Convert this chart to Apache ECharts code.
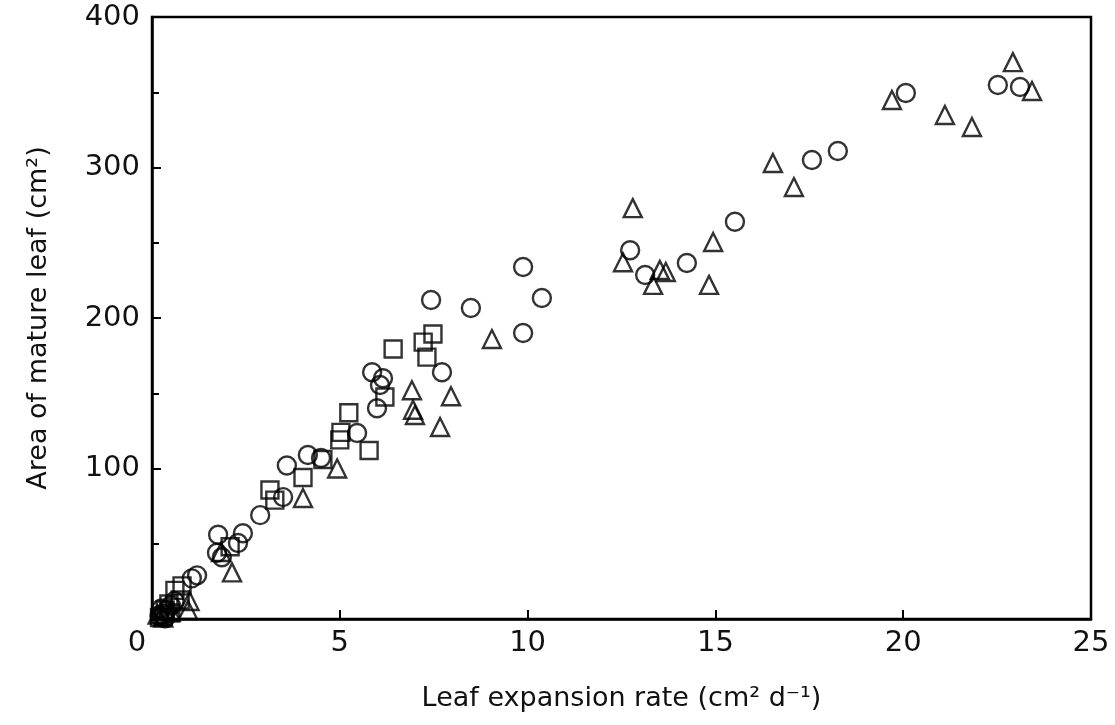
<!DOCTYPE html>
<html>
<head>
<meta charset="utf-8">
<script src="https://cdn.jsdelivr.net/npm/echarts@6/dist/echarts.min.js"></script>
<style>html,body{margin:0;padding:0;background:#fff}#c{width:1115px;height:725px}</style>
</head>
<body>
<div id="c"></div>
<script>
// Data: [expansion rate, mature leaf area]
const circles = [
  [0.2, 2], [0.3, 3], [0.4, 6], [0.5, 9], [0.35, 0.5], [0.6, 12], [0.25, 7],
  [1.06, 27], [1.2, 29], [1.73, 44], [1.86, 41], [1.76, 56], [2.29, 50.5], [2.42, 57],
  [2.88, 69], [3.49, 81], [3.59, 102], [4.15, 109], [4.5, 107],
  [5.46, 123.6], [5.99, 140], [5.86, 164], [6.15, 160], [6.07, 155.5], [7.72, 164],
  [7.43, 212], [8.49, 206.6], [9.88, 233.9], [10.38, 213.3], [9.88, 190],
  [12.73, 245], [13.13, 228.6], [14.24, 236.5], [15.52, 264],
  [17.57, 305], [18.26, 311], [20.07, 349.5], [22.52, 354.8], [23.11, 353.5]
];
const triangles = [
  [0.3, 1], [0.5, 5], [0.96, 6], [1.0, 12], [0.15, 3],
  [1.84, 44.5], [2.13, 31], [4.02, 80.4], [4.93, 100],
  [6.92, 152], [6.95, 139], [7.0, 135.5], [7.96, 148], [7.67, 127.6], [9.05, 186],
  [12.8, 273], [12.54, 237], [13.34, 222], [13.52, 232], [13.68, 230.6],
  [14.94, 250.5], [14.83, 222], [16.53, 303], [17.09, 287],
  [19.70, 344.9], [21.11, 334.9], [21.83, 326.9], [22.92, 370], [23.43, 350.8]
];
const squares = [
  [0.2, 1], [0.3, 2], [0.5, 4], [0.35, 6], [0.45, 10], [0.61, 19], [0.75, 12.6], [0.8, 22],
  [2.08, 48], [3.14, 85.7], [3.27, 79], [4.02, 94], [4.55, 106],
  [5.0, 119], [5.03, 124], [5.24, 137], [5.78, 112], [6.2, 147.5],
  [6.42, 179.4], [7.22, 184], [7.32, 174], [7.48, 189.4]
];
const xTicks = [0, 5, 10, 15, 20, 25];
const yTicks = [0, 100, 200, 300, 400];

const FONT = '"DejaVu Sans", sans-serif';
const chart = echarts.init(document.getElementById('c'), null, {renderer: 'canvas'});
const markerStyle = {color: 'rgba(0,0,0,0)', borderColor: '#000', borderWidth: 2.4};
chart.setOption({
  animation: false,
  backgroundColor: '#fff',
  grid: {left: 152, right: 24, top: 17, bottom: 106, show: true, borderColor: '#000', borderWidth: 2.5, backgroundColor: 'transparent'},
  xAxis: {
    type: 'value', min: xTicks[0], max: xTicks[xTicks.length - 1], interval: 5,
    name: 'Leaf expansion rate (cm\u00B2 d\u207B\u00B9)', nameLocation: 'middle', nameGap: 66,
    nameTextStyle: {fontFamily: FONT, fontSize: 27, color: '#111'},
    axisLine: {lineStyle: {color: '#000', width: 2.5}},
    axisTick: {inside: true, length: 9, lineStyle: {color: '#000', width: 2}},
    splitLine: {show: false},
    axisLabel: {
      fontFamily: FONT, fontSize: 29, color: '#111', margin: 10,
      formatter: v => v === 0 ? '{z|0}' : String(v),
      rich: {z: {fontFamily: FONT, fontSize: 29, color: '#111', padding: [0, 30, 0, 0]}}
    }
  },
  yAxis: {
    type: 'value', min: yTicks[0], max: yTicks[yTicks.length - 1], interval: 100,
    name: 'Area of mature leaf (cm\u00B2)', nameLocation: 'middle', nameGap: 100,
    nameTextStyle: {fontFamily: FONT, fontSize: 27, color: '#111'},
    axisLine: {lineStyle: {color: '#000', width: 2.5}},
    axisTick: {inside: true, length: 9, lineStyle: {color: '#000', width: 2}},
    minorTick: {show: true, splitNumber: 2, length: 7, lineStyle: {color: '#000', width: 2}},
    splitLine: {show: false},
    axisLabel: {fontFamily: FONT, fontSize: 29, color: '#111', margin: 12, showMinLabel: false}
  },
  series: [
    {type: 'scatter', name: 'circle', data: circles, symbol: 'circle', symbolSize: 18, clip: false, itemStyle: markerStyle},
    {type: 'scatter', name: 'triangle', data: triangles, symbol: 'triangle', symbolSize: 18, clip: false, itemStyle: markerStyle},
    {type: 'scatter', name: 'square', data: squares, symbol: 'rect', symbolSize: 17, clip: false, itemStyle: markerStyle}
  ]
});
</script>
</body>
</html>
